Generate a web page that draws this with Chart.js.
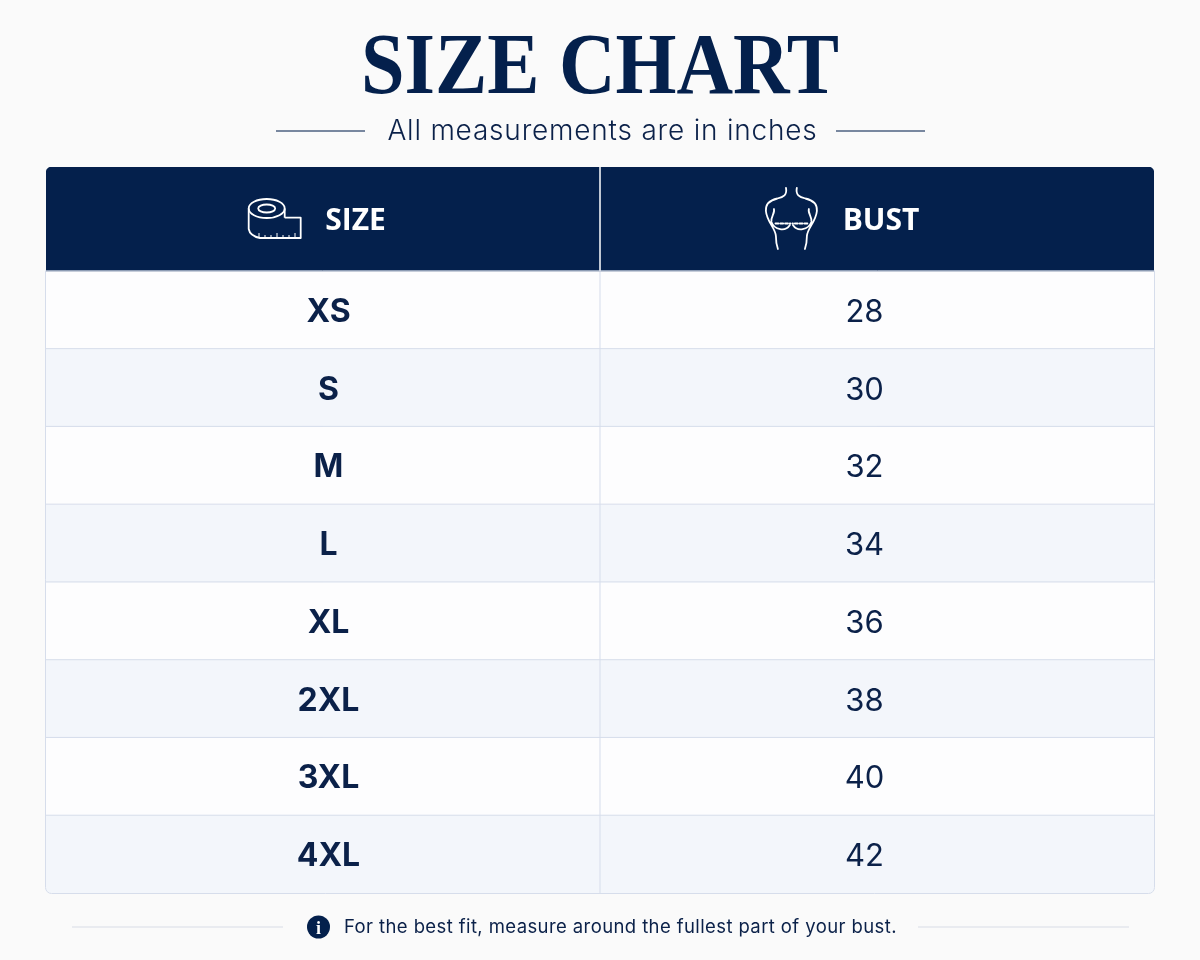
<!DOCTYPE html>
<html>
<head>
<meta charset="utf-8">
<title>Size chart</title>
<script src="https://cdn.jsdelivr.net/npm/chart.js@4"></script>
<style>
  html, body { margin: 0; background: #fafafa; }
  canvas { display: block; }
</style>
</head>
<body>
<canvas id="sizeChart" width="1200" height="960"></canvas>
<script>
const columns = ['SIZE', 'BUST'];
const sizes = ['XS', 'S', 'M', 'L', 'XL', '2XL', '3XL', '4XL'];
const bust = [28, 30, 32, 34, 36, 38, 40, 42];

const navy = '#04204c';
const ink = '#0b2149';
const rule = '#d6ddeb';
const headerRows = 1.3355; // header band is taller than a body row

function line(c, x1, y1, x2, y2) {
  c.beginPath();
  c.moveTo(x1, y1);
  c.lineTo(x2, y2);
  c.stroke();
}

function spaced(c, text, x, y, font, color, spacing, align) {
  c.font = font;
  c.fillStyle = color;
  c.letterSpacing = spacing;
  c.textAlign = align;
  c.textBaseline = 'alphabetic';
  c.fillText(text, x, y);
  c.letterSpacing = '0px';
}

function tapeIcon(c) {
  c.save();
  c.strokeStyle = '#fff';
  c.lineWidth = 1.8;
  c.lineJoin = 'round';
  c.beginPath();
  c.ellipse(266.7, 208.5, 18, 9.5, 0, 0, Math.PI * 2);
  c.stroke();
  c.beginPath();
  c.ellipse(266.7, 208.5, 8.5, 4, 0, 0, Math.PI * 2);
  c.stroke();
  c.beginPath();
  c.moveTo(248.7, 208.5);
  c.lineTo(248.7, 229);
  c.quadraticCurveTo(250, 236, 260, 238);
  c.lineTo(300.7, 238);
  c.lineTo(300.7, 217.7);
  c.lineTo(284.7, 217.7);
  c.moveTo(284.7, 208.5);
  c.lineTo(284.7, 217.7);
  c.stroke();
  c.lineWidth = 1;
  for (let t = 0; t < 7; t++) {
    line(c, 259 + t * 6, 238, 259 + t * 6, t % 3 === 0 ? 233 : 235);
  }
  c.restore();
}

function bustHalf(c) {
  c.beginPath();
  c.moveTo(-5.4, 188);
  c.bezierCurveTo(-4, 195, -8, 197, -14, 198.5);
  c.bezierCurveTo(-21, 200, -26, 204, -25.5, 211);
  c.bezierCurveTo(-24.5, 222, -16, 228, -15.5, 236);
  c.bezierCurveTo(-15.5, 241, -15, 245, -13.5, 249);
  c.moveTo(-17.5, 209);
  c.bezierCurveTo(-16, 213, -21, 217, -20, 222);
  c.bezierCurveTo(-17, 230, -6, 232, -1.5, 225);
  c.stroke();
  c.setLineDash([3, 1.8]);
  line(c, -16, 223.5, -1, 223.5);
  c.setLineDash([]);
}

function bustIcon(c) {
  c.save();
  c.strokeStyle = '#fff';
  c.lineWidth = 1.8;
  c.lineCap = 'round';
  c.translate(791.4, 0);
  bustHalf(c);
  c.scale(-1, 1);
  bustHalf(c);
  c.restore();
}

const sheet = {
  id: 'sheet',
  afterDraw(chart) {
    const c = chart.ctx;
    const { x, y } = chart.scales;
    const { left, right, top, bottom } = chart.chartArea;
    const mid = (x.getPixelForValue(0) + x.getPixelForValue(1)) / 2;
    const headBottom = y.getPixelForValue(0);
    c.save();

    // title block
    c.save();
    c.translate(600, 93);
    c.scale(0.9, 1);
    spaced(c, 'SIZE CHART', 0, 0, 'bold 87px "Liberation Serif"', navy, '0px', 'center');
    c.restore();
    spaced(c, 'All measurements are in inches', 602.5, 139.5, '300 28px Inter', ink, '0.8px', 'center');
    c.strokeStyle = '#4d6080';
    c.lineWidth = 1.3;
    line(c, 276, 131, 365, 131);
    line(c, 836, 131, 925, 131);

    // table rules
    c.strokeStyle = rule;
    c.lineWidth = 1;
    sizes.forEach((_, i) => {
      if (i > 0) line(c, left, y.getPixelForValue(i), right, y.getPixelForValue(i));
    });
    line(c, mid, headBottom, mid, bottom);
    c.beginPath();
    c.roundRect(left - 0.5, headBottom, right - left + 1, bottom - headBottom + 0.5, [0, 0, 6, 6]);
    c.stroke();
    c.strokeStyle = '#fff';
    c.lineWidth = 1.5;
    line(c, mid, top, mid, headBottom);

    // header
    tapeIcon(c);
    bustIcon(c);
    const headY = (top + headBottom) / 2 + 11;
    spaced(c, columns[0], x.getPixelForValue(0) + 32.5, headY, 'bold 30px "Open Sans"', '#fff', '0px', 'center');
    spaced(c, columns[1], x.getPixelForValue(1) + 4, headY, 'bold 30px "Open Sans"', '#fff', '0px', 'center');

    // cells
    sizes.forEach((s, i) => {
      const base = y.getPixelForValue(i + 0.5) + 12;
      spaced(c, s, x.getPixelForValue(0) + 5.5, base, 'bold 32px Inter', ink, '0px', 'center');
      spaced(c, String(bust[i]), x.getPixelForValue(1) - 12.5, base, '400 31px Inter', ink, '0px', 'center');
    });

    // footnote
    c.strokeStyle = '#e3e6ec';
    c.lineWidth = 1.5;
    line(c, 72, 927, 283, 927);
    line(c, 918, 927, 1129, 927);
    c.fillStyle = navy;
    c.beginPath();
    c.arc(318.5, 927, 11.5, 0, Math.PI * 2);
    c.fill();
    spaced(c, 'i', 318.5, 934, 'bold 18px "Liberation Serif"', '#fff', '0px', 'center');
    spaced(c, 'For the best fit, measure around the fullest part of your bust.', 344, 933, '400 18.5px Inter', ink, '0.4px', 'left');
    c.restore();
  }
};

const rowDatasets = sizes.map((s, i) => ({
  label: s,
  data: columns.map(() => [i, i + 1]),
  backgroundColor: i % 2 ? '#f3f6fb' : '#fdfdfe',
  borderRadius: ctx => i === sizes.length - 1
    ? (ctx.dataIndex === 0 ? { bottomLeft: 6 } : { bottomRight: 6 })
    : 0,
  borderSkipped: false
}));

new Chart(document.getElementById('sizeChart'), {
  type: 'bar',
  data: {
    labels: columns,
    datasets: [{
      label: 'header',
      data: columns.map(() => [-headerRows, 0]),
      backgroundColor: navy,
      borderRadius: ctx => ctx.dataIndex === 0 ? { topLeft: 6 } : { topRight: 6 },
      borderSkipped: false
    }, ...rowDatasets]
  },
  options: {
    responsive: false,
    animation: false,
    layout: { padding: { left: 46, right: 46, top: 167, bottom: 67 } },
    datasets: { bar: { grouped: false, barPercentage: 1, categoryPercentage: 1 } },
    plugins: { legend: { display: false }, tooltip: { enabled: false }, title: { display: false } },
    scales: {
      x: { type: 'category', display: false, offset: true },
      y: { type: 'linear', display: false, reverse: true, min: -headerRows, max: sizes.length }
    }
  },
  plugins: [sheet]
});
</script>
</body>
</html>
